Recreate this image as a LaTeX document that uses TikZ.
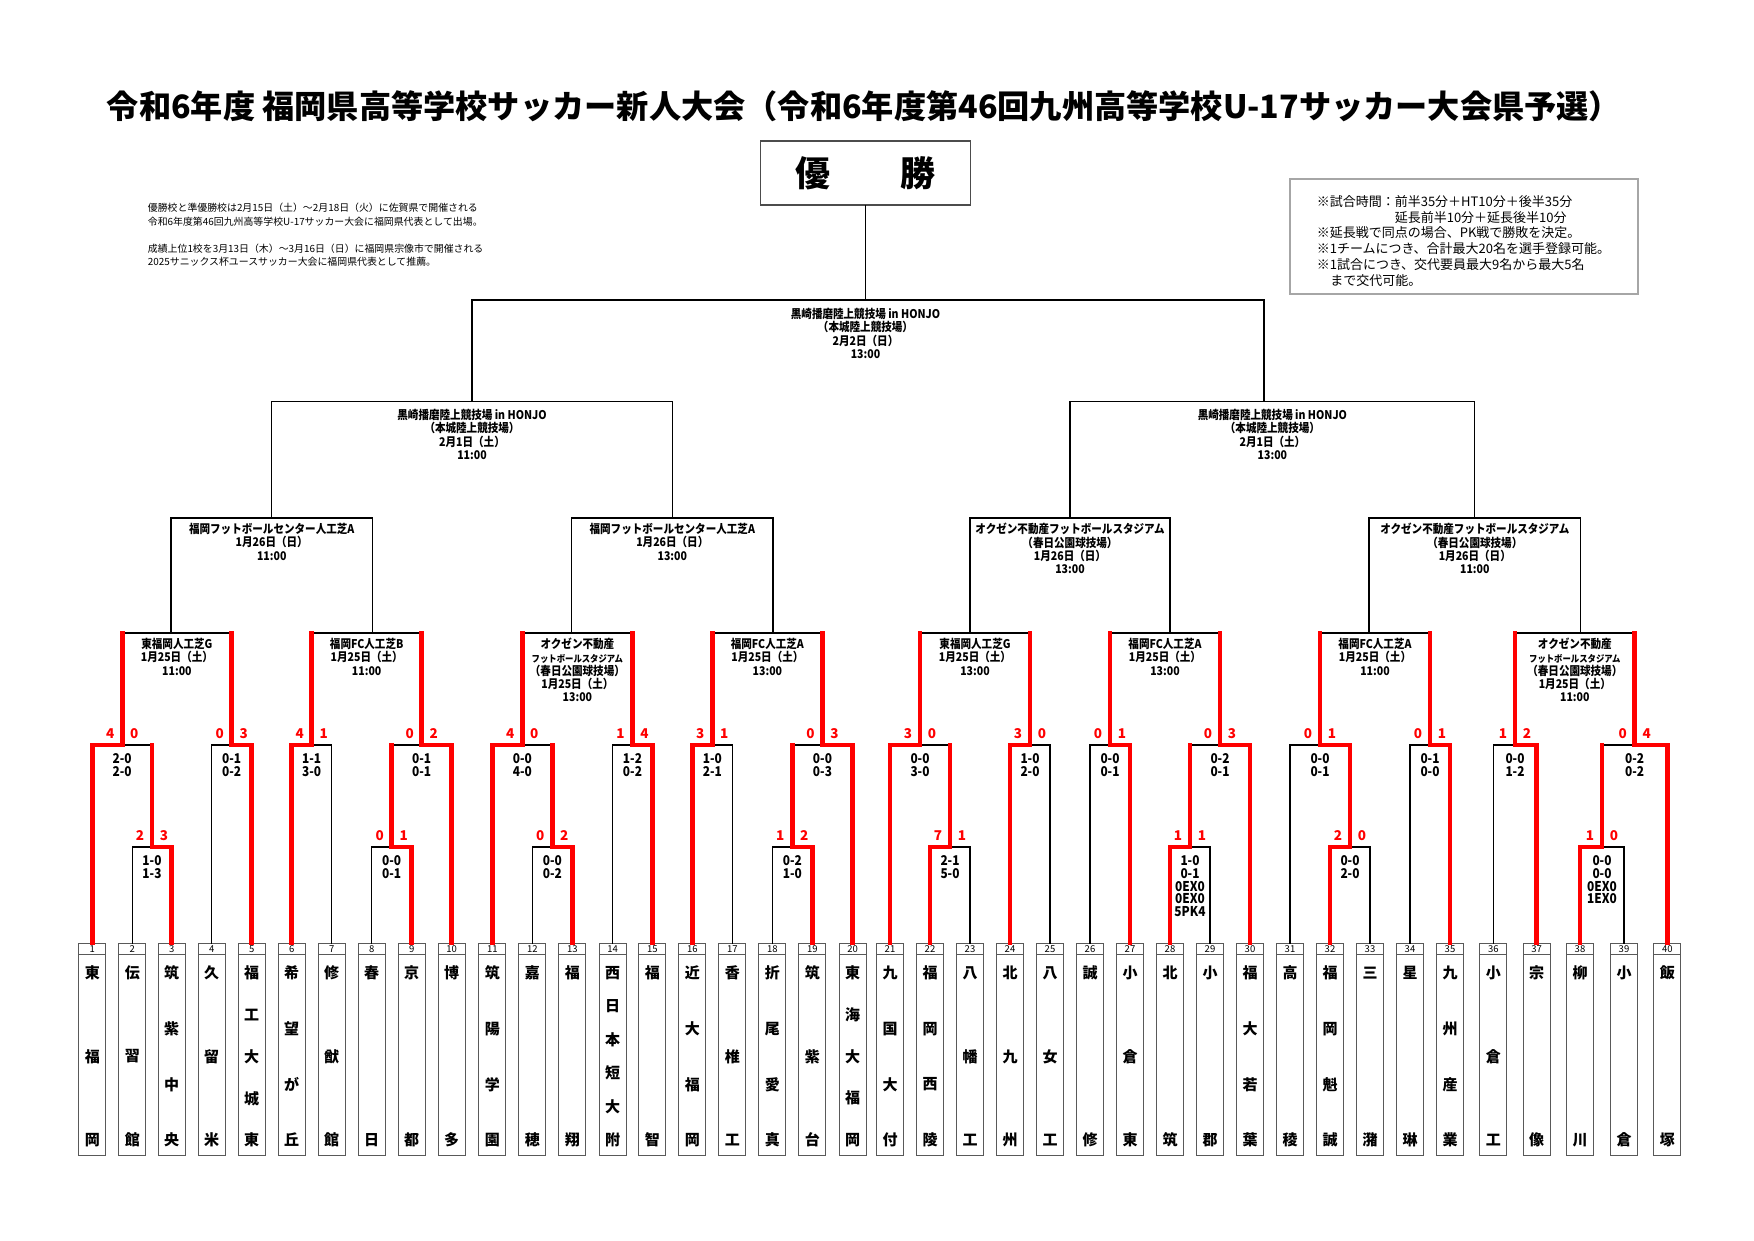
\documentclass[tikz,border=0pt]{standalone}
\usepackage{fontspec}
\setmainfont{Noto Sans CJK JP}
\newfontfamily\narjp{Noto Sans CJK JP}[FakeStretch=0.88]
\usetikzlibrary{calc}
\newcommand\MyTeam[4]{%
  \node[numbox] (nb#1) at (#2,948.75) {#1};
  \node[namebox] (bx#1) at (#2,1055) {};
  \coordinate (t#1) at (#2,943);
  \foreach \c [count=\j] in {#4} {\node[nm] (ch#1-\j) at (#2,{973+(\j-1)*167/(#3-1)}) {\c};}
}
\newcommand\MyMatch[4]{%
  \coordinate (#1) at ($(#2 |- #4)!0.5!(#3 |- #4)$);
  \draw[blk] (#2) -- (#2 |- #4) -- (#3 |- #4) -- (#3);
}
\newcommand\MyWin[3]{\draw[win] (#1) -- (#1 |- #2) -- (#2) -- (#2 |- #3);}
\newcommand\MyScore[3]{%
  \node[scr] (#1-sl) at ([xshift=-12pt,yshift=7pt]#1) {#2};
  \node[scr] (#1-sr) at ([xshift=12pt,yshift=7pt]#1) {#3};}
\newcommand\MyDet[2]{\node[det] (#1-d) at ([yshift=-8.5pt]#1) {#2};}
\newcommand\MyVen[3]{\node[ven] (#1-v) at ([yshift=#2]#1) {#3};}
\begin{document}
\begin{tikzpicture}[x=1pt,y=-1pt,
 blk/.style={line width=1.3pt,line cap=rect},
 win/.style={draw=red,line width=4.7pt,line join=miter,line cap=rect},
 scr/.style={text=red,inner sep=0pt,anchor=base,font=\fontsize{13.5}{14}\selectfont\bfseries},
 det/.style={inner sep=0pt,anchor=north,align=center,font=\narjp\fontsize{13.5}{12.7}\selectfont\bfseries},
 ven/.style={inner sep=0pt,anchor=north,align=center,font=\narjp\fontsize{12}{13.3}\selectfont\bfseries},
 numbox/.style={draw=gray!70!black,line width=0.8pt,minimum width=27pt,minimum height=11.5pt,inner sep=0pt,font=\fontsize{9.5}{9.5}\selectfont},
 namebox/.style={draw=gray!70!black,line width=0.8pt,minimum width=27pt,minimum height=201pt,inner sep=0pt},
 nm/.style={inner sep=0pt,font=\fontsize{15}{15}\selectfont\bfseries},
]
\fill[white] (0,0) rectangle (1754,1240);
\useasboundingbox (0,0) rectangle (1754,1240);

% title
\node[font=\fontsize{32.2}{32.2}\selectfont\bfseries] (title) at (864,106)
 {令和6年度 福岡県高等学校サッカー新人大会（令和6年度第46回九州高等学校U-17サッカー大会県予選）};

% notes
\node[anchor=north west,align=left,inner sep=0pt,font=\fontsize{9.9}{13.5}\selectfont] (note) at (147.7,203)
 {優勝校と準優勝校は2月15日（土）～2月18日（火）に佐賀県で開催される\\
  令和6年度第46回九州高等学校U-17サッカー大会に福岡県代表として出場。\\[13.4pt]
  成績上位1校を3月13日（木）～3月16日（日）に福岡県宗像市で開催される\\
  2025サニックス杯ユースサッカー大会に福岡県代表として推薦。};

\node[draw=gray!70,line width=2pt,minimum width=347.8pt,minimum height=115pt,inner sep=0pt] (rules) at (1463.7,236.5) {};
\node[anchor=north west,align=left,inner sep=0pt,font=\fontsize{13}{15.9}\selectfont] (rulestxt) at (1316.6,195)
 {※試合時間：前半35分＋HT10分＋後半35分\\
  \hspace*{78pt}延長前半10分＋延長後半10分\\
  ※延長戦で同点の場合、PK戦で勝敗を決定。\\
  ※1チームにつき、合計最大20名を選手登録可能。\\
  ※1試合につき、交代要員最大9名から最大5名\\
  \hspace*{13.5pt}まで交代可能。};

% teams
\MyTeam{1}{92.3}{3}{東,福,岡}
\MyTeam{2}{132.3}{3}{伝,習,館}
\MyTeam{3}{171.7}{4}{筑,紫,中,央}
\MyTeam{4}{211.7}{3}{久,留,米}
\MyTeam{5}{251.7}{5}{福,工,大,城,東}
\MyTeam{6}{291.7}{4}{希,望,が,丘}
\MyTeam{7}{331.7}{3}{修,猷,館}
\MyTeam{8}{371.7}{2}{春,日}
\MyTeam{9}{411.7}{2}{京,都}
\MyTeam{10}{451.7}{2}{博,多}
\MyTeam{11}{492.3}{4}{筑,陽,学,園}
\MyTeam{12}{532.3}{2}{嘉,穂}
\MyTeam{13}{572.3}{2}{福,翔}
\MyTeam{14}{612.7}{6}{西,日,本,短,大,附}
\MyTeam{15}{652.3}{2}{福,智}
\MyTeam{16}{692.3}{4}{近,大,福,岡}
\MyTeam{17}{732.3}{3}{香,椎,工}
\MyTeam{18}{772.3}{4}{折,尾,愛,真}
\MyTeam{19}{812.3}{3}{筑,紫,台}
\MyTeam{20}{852.7}{5}{東,海,大,福,岡}
\MyTeam{21}{890}{4}{九,国,大,付}
\MyTeam{22}{930}{4}{福,岡,西,陵}
\MyTeam{23}{970}{3}{八,幡,工}
\MyTeam{24}{1010}{3}{北,九,州}
\MyTeam{25}{1050}{3}{八,女,工}
\MyTeam{26}{1090}{2}{誠,修}
\MyTeam{27}{1130}{3}{小,倉,東}
\MyTeam{28}{1170}{2}{北,筑}
\MyTeam{29}{1210}{2}{小,郡}
\MyTeam{30}{1250}{4}{福,大,若,葉}
\MyTeam{31}{1290}{2}{高,稜}
\MyTeam{32}{1330}{4}{福,岡,魁,誠}
\MyTeam{33}{1370}{2}{三,潴}
\MyTeam{34}{1410}{2}{星,琳}
\MyTeam{35}{1450}{4}{九,州,産,業}
\MyTeam{36}{1493.3}{3}{小,倉,工}
\MyTeam{37}{1536.7}{2}{宗,像}
\MyTeam{38}{1580}{2}{柳,川}
\MyTeam{39}{1624}{2}{小,倉}
\MyTeam{40}{1667.3}{2}{飯,塚}

% levels
\coordinate (L847) at (0,847);
\coordinate (L745) at (0,745);
\coordinate (L633) at (0,633);
\coordinate (L518) at (0,518);
\coordinate (L401) at (0,401.6);
\coordinate (L300) at (0,300);

% first rounds
\MyMatch{p1}{t2}{t3}{L847}
\MyMatch{a1}{t1}{p1}{L745}
\MyMatch{b1}{t4}{t5}{L745}
\MyMatch{a2}{t6}{t7}{L745}
\MyMatch{p2}{t8}{t9}{L847}
\MyMatch{b2}{p2}{t10}{L745}
\MyMatch{p3}{t12}{t13}{L847}
\MyMatch{a3}{t11}{p3}{L745}
\MyMatch{b3}{t14}{t15}{L745}
\MyMatch{a4}{t16}{t17}{L745}
\MyMatch{p4}{t18}{t19}{L847}
\MyMatch{b4}{p4}{t20}{L745}
\MyMatch{p5}{t22}{t23}{L847}
\MyMatch{a5}{t21}{p5}{L745}
\MyMatch{b5}{t24}{t25}{L745}
\MyMatch{a6}{t26}{t27}{L745}
\MyMatch{p6}{t28}{t29}{L847}
\MyMatch{b6}{p6}{t30}{L745}
\MyMatch{p7}{t32}{t33}{L847}
\MyMatch{a7}{t31}{p7}{L745}
\MyMatch{b7}{t34}{t35}{L745}
\MyMatch{a8}{t36}{t37}{L745}
\MyMatch{p8}{t38}{t39}{L847}
\MyMatch{b8}{p8}{t40}{L745}
% round of 16
\MyMatch{r1}{a1}{b1}{L633}
\MyMatch{r2}{a2}{b2}{L633}
\MyMatch{r3}{a3}{b3}{L633}
\MyMatch{r4}{a4}{b4}{L633}
\MyMatch{r5}{a5}{b5}{L633}
\MyMatch{r6}{a6}{b6}{L633}
\MyMatch{r7}{a7}{b7}{L633}
\MyMatch{r8}{a8}{b8}{L633}
% points where each round-of-16 box is joined to the next round
\coordinate (r1u) at (171,633);
\coordinate (r2u) at (372.5,633);
\coordinate (r3u) at (571.6,633);
\coordinate (r4u) at (773,633);
\coordinate (r5u) at (970,633);
\coordinate (r6u) at (1170,633);
\coordinate (r7u) at (1369,633);
\coordinate (r8u) at (1580.6,633);
% quarter finals
\MyMatch{q1}{r1u}{r2u}{L518}
\MyMatch{q2}{r3u}{r4u}{L518}
\MyMatch{q3}{r5u}{r6u}{L518}
\MyMatch{q4}{r7u}{r8u}{L518}
% semi finals
\MyMatch{sL}{q1}{q2}{L401}
\MyMatch{sR}{q3}{q4}{L401}
\coordinate (sRf) at (1264,401.6);
% final
\draw[blk] (sL) -- (sL |- L300) -- (sRf |- L300) -- (sRf);
\node[draw=gray!60!black,line width=1.6pt,minimum width=210pt,minimum height=63.7pt,inner sep=0pt,
      font=\fontsize{35}{35}\selectfont\bfseries] (champ) at (865.5,173) {優　　勝};
\draw[blk] (champ.south) -- (champ.south |- L300);
\coordinate (fc) at (champ.south |- L300);

% winners' paths
\MyWin{t3}{p1}{a1}
\MyWin{t1}{a1}{r1}
\MyWin{t5}{b1}{r1}
\MyWin{t6}{a2}{r2}
\MyWin{t9}{p2}{b2}
\MyWin{t10}{b2}{r2}
\MyWin{t13}{p3}{a3}
\MyWin{t11}{a3}{r3}
\MyWin{t15}{b3}{r3}
\MyWin{t16}{a4}{r4}
\MyWin{t19}{p4}{b4}
\MyWin{t20}{b4}{r4}
\MyWin{t22}{p5}{a5}
\MyWin{t21}{a5}{r5}
\MyWin{t24}{b5}{r5}
\MyWin{t27}{a6}{r6}
\MyWin{t28}{p6}{b6}
\MyWin{t30}{b6}{r6}
\MyWin{t32}{p7}{a7}
\MyWin{p7}{a7}{r7}
\MyWin{t35}{b7}{r7}
\MyWin{t37}{a8}{r8}
\MyWin{t38}{p8}{b8}
\MyWin{t40}{b8}{r8}

% scores
\MyScore{p1}{2}{3} \MyDet{p1}{1-0\\1-3}
\MyScore{a1}{4}{0} \MyDet{a1}{2-0\\2-0}
\MyScore{b1}{0}{3} \MyDet{b1}{0-1\\0-2}
\MyScore{a2}{4}{1} \MyDet{a2}{1-1\\3-0}
\MyScore{p2}{0}{1} \MyDet{p2}{0-0\\0-1}
\MyScore{b2}{0}{2} \MyDet{b2}{0-1\\0-1}
\MyScore{p3}{0}{2} \MyDet{p3}{0-0\\0-2}
\MyScore{a3}{4}{0} \MyDet{a3}{0-0\\4-0}
\MyScore{b3}{1}{4} \MyDet{b3}{1-2\\0-2}
\MyScore{a4}{3}{1} \MyDet{a4}{1-0\\2-1}
\MyScore{p4}{1}{2} \MyDet{p4}{0-2\\1-0}
\MyScore{b4}{0}{3} \MyDet{b4}{0-0\\0-3}
\MyScore{p5}{7}{1} \MyDet{p5}{2-1\\5-0}
\MyScore{a5}{3}{0} \MyDet{a5}{0-0\\3-0}
\MyScore{b5}{3}{0} \MyDet{b5}{1-0\\2-0}
\MyScore{a6}{0}{1} \MyDet{a6}{0-0\\0-1}
\MyScore{p6}{1}{1} \MyDet{p6}{1-0\\0-1\\0EX0\\0EX0\\5PK4}
\MyScore{b6}{0}{3} \MyDet{b6}{0-2\\0-1}
\MyScore{p7}{2}{0} \MyDet{p7}{0-0\\2-0}
\MyScore{a7}{0}{1} \MyDet{a7}{0-0\\0-1}
\MyScore{b7}{0}{1} \MyDet{b7}{0-1\\0-0}
\MyScore{a8}{1}{2} \MyDet{a8}{0-0\\1-2}
\MyScore{p8}{1}{0} \MyDet{p8}{0-0\\0-0\\0EX0\\1EX0}
\MyScore{b8}{0}{4} \MyDet{b8}{0-2\\0-2}

% venues
\MyVen{r1}{-5pt}{東福岡人工芝G\\1月25日（土）\\11:00}
\MyVen{r2}{-5pt}{福岡FC人工芝B\\1月25日（土）\\11:00}
\MyVen{r3}{-5pt}{オクゼン不動産\\{\fontsize{9.5}{13}\selectfont フットボールスタジアム}\\（春日公園球技場）\\1月25日（土）\\13:00}
\MyVen{r4}{-5pt}{福岡FC人工芝A\\1月25日（土）\\13:00}
\MyVen{r5}{-5pt}{東福岡人工芝G\\1月25日（土）\\13:00}
\MyVen{r6}{-5pt}{福岡FC人工芝A\\1月25日（土）\\13:00}
\MyVen{r7}{-5pt}{福岡FC人工芝A\\1月25日（土）\\11:00}
\MyVen{r8}{-5pt}{オクゼン不動産\\{\fontsize{9.5}{13}\selectfont フットボールスタジアム}\\（春日公園球技場）\\1月25日（土）\\11:00}
\MyVen{q1}{-5pt}{福岡フットボールセンター人工芝A\\1月26日（日）\\11:00}
\MyVen{q2}{-5pt}{福岡フットボールセンター人工芝A\\1月26日（日）\\13:00}
\MyVen{q3}{-5pt}{オクゼン不動産フットボールスタジアム\\（春日公園球技場）\\1月26日（日）\\13:00}
\MyVen{q4}{-5pt}{オクゼン不動産フットボールスタジアム\\（春日公園球技場）\\1月26日（日）\\11:00}
\MyVen{sL}{-7.5pt}{黒崎播磨陸上競技場 in HONJO\\（本城陸上競技場）\\2月1日（土）\\11:00}
\MyVen{sR}{-7.5pt}{黒崎播磨陸上競技場 in HONJO\\（本城陸上競技場）\\2月1日（土）\\13:00}
\MyVen{fc}{-8pt}{黒崎播磨陸上競技場 in HONJO\\（本城陸上競技場）\\2月2日（日）\\13:00}
\end{tikzpicture}
\end{document}
